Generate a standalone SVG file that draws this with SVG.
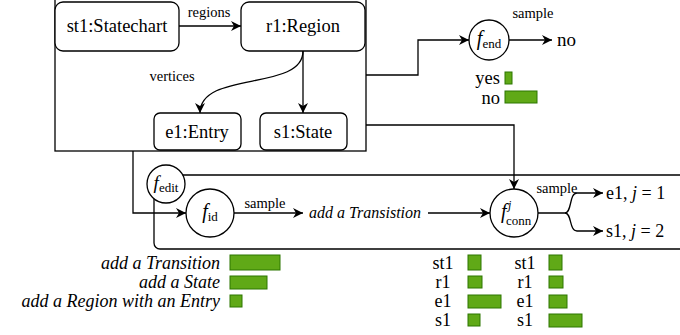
<svg xmlns="http://www.w3.org/2000/svg" width="680" height="335" viewBox="0 0 680 335">
<style>
text{font-family:"Liberation Serif","Noto Serif","DejaVu Serif",serif}
.node{fill:#fff;stroke:#000;stroke-width:1.3}
.lbl{font-size:14.5px}
.nm{font-size:18.5px}
.it{font-style:italic}
.ln{fill:none;stroke:#000;stroke-width:1.3}
.bar{fill:#60a917;stroke:#2d7600;stroke-width:1}
.ch{font-size:18px}
</style>
<defs>
<marker id="ahL" viewBox="0 0 10 10" refX="10" refY="5" markerWidth="10" markerHeight="10" markerUnits="userSpaceOnUse" orient="auto">
<path d="M0,0 L10,5 L0,10 L3,5 z" fill="#000"/>
</marker>
</defs>

<g id="container">
<rect x="55" y="-1" width="311" height="152" fill="#fff" stroke="#000" stroke-width="1.3"/>
</g>
<g id="edit-region">
<rect x="154" y="175" width="560" height="74" rx="6" fill="none" stroke="#000" stroke-width="1.3"/>
</g>

<g id="connectors">
<path class="ln" d="M179,26 L241,26" marker-end="url(#ahL)"/>
<path class="ln" d="M303,51 C303,92 200,70 200,113" marker-end="url(#ahL)"/>
<path class="ln" d="M303,51 L303,113" marker-end="url(#ahL)"/>
<path class="ln" d="M366,75 L418,75 L418,40 L469,40" marker-end="url(#ahL)"/>
<path class="ln" d="M509,40 L552,40" stroke-width="2" marker-end="url(#ahL)"/>
<path class="ln" d="M366,125 L514,125 L514,189" marker-end="url(#ahL)"/>
<path class="ln" d="M133,151 L133,213 L186,213" marker-end="url(#ahL)"/>
<path class="ln" d="M234,213 L303,213" marker-end="url(#ahL)"/>
<path class="ln" d="M428,213 L490,213" marker-end="url(#ahL)"/>
<path class="ln" d="M538,213 L565,213 C572,213 569,193 577,193 L603,193" marker-end="url(#ahL)"/>
<path class="ln" d="M565,213 C572,213 569,231 577,231 L603,231" marker-end="url(#ahL)"/>
</g>

<g id="labels">
<text class="lbl" x="209" y="17" text-anchor="middle">regions</text>
<text class="lbl" x="172" y="81" text-anchor="middle">vertices</text>
<text class="lbl" x="533" y="18" text-anchor="middle">sample</text>
<text class="lbl" x="265" y="208" text-anchor="middle">sample</text>
<text class="lbl" x="557" y="193" text-anchor="middle">sample</text>
<text x="365" y="218" font-size="16" class="it" text-anchor="middle">add a Transistion</text>
</g>

<g id="st1">
<rect class="node" x="55" y="2" width="124" height="49" rx="8"/>
<text class="nm" x="117" y="32" text-anchor="middle">st1:Statechart</text>
</g>
<g id="r1">
<rect class="node" x="241" y="2" width="124" height="49" rx="8"/>
<text class="nm" x="303" y="32" text-anchor="middle">r1:Region</text>
</g>
<g id="e1">
<rect class="node" x="154" y="113" width="87" height="37" rx="6"/>
<text class="nm" x="197" y="138" text-anchor="middle">e1:Entry</text>
</g>
<g id="s1">
<rect class="node" x="260" y="113" width="87" height="37" rx="6"/>
<text class="nm" x="303" y="138" text-anchor="middle">s1:State</text>
</g>

<g id="fend">
<circle class="node" cx="489" cy="40" r="20"/>
<text x="489" y="45" text-anchor="middle"><tspan class="it" font-size="20">f</tspan><tspan font-size="13" dy="3">end</tspan></text>
<text x="557" y="46" font-size="19">no</text>
<text x="500" y="84" font-size="18.5" text-anchor="end">yes</text>
<text x="500" y="104" font-size="18.5" text-anchor="end">no</text>
<rect class="bar" x="505" y="72" width="7" height="12"/>
<rect class="bar" x="505" y="91" width="32" height="12"/>
</g>

<g id="fedit">
<circle class="node" cx="166" cy="184" r="19"/>
<text x="166" y="189" text-anchor="middle"><tspan class="it" font-size="19">f</tspan><tspan font-size="13" dy="3">edit</tspan></text>
</g>
<g id="fid">
<circle class="node" cx="210" cy="213" r="24"/>
<text x="210" y="218" text-anchor="middle"><tspan class="it" font-size="20">f</tspan><tspan font-size="13" dy="3">id</tspan></text>
</g>
<g id="fconn">
<circle class="node" cx="514" cy="213" r="24"/>
<text x="501" y="218" class="it" font-size="20">f</text>
<text x="508" y="209" class="it" font-size="12">j</text>
<text x="506" y="225" font-size="13">conn</text>
</g>
<g id="outputs">
<text x="606" y="199" font-size="18">e1, <tspan class="it">j</tspan> = 1</text>
<text x="606" y="237" font-size="18">s1, <tspan class="it">j</tspan> = 2</text>
</g>

<g id="chart-edits">
<text x="220" y="269" font-size="18" class="it" text-anchor="end">add a Transition</text>
<text x="220" y="288" font-size="18" class="it" text-anchor="end">add a State</text>
<text x="220" y="307" font-size="18" class="it" text-anchor="end">add a Region with an Entry</text>
<rect class="bar" x="230" y="255" width="50" height="15"/>
<rect class="bar" x="230" y="276" width="37" height="13"/>
<rect class="bar" x="230" y="295" width="12" height="12"/>
</g>
<g id="chart-conn1">
<text class="ch" x="443" y="269" text-anchor="middle">st1</text>
<text class="ch" x="443" y="288" text-anchor="middle">r1</text>
<text class="ch" x="443" y="307" text-anchor="middle">e1</text>
<text class="ch" x="443" y="326" text-anchor="middle">s1</text>
<rect class="bar" x="468" y="255" width="13" height="15"/>
<rect class="bar" x="468" y="276" width="14" height="12"/>
<rect class="bar" x="468" y="295" width="33" height="13"/>
<rect class="bar" x="468" y="314" width="12" height="12"/>
</g>
<g id="chart-conn2">
<text class="ch" x="525" y="269" text-anchor="middle">st1</text>
<text class="ch" x="525" y="288" text-anchor="middle">r1</text>
<text class="ch" x="525" y="307" text-anchor="middle">e1</text>
<text class="ch" x="525" y="326" text-anchor="middle">s1</text>
<rect class="bar" x="549" y="255" width="13" height="15"/>
<rect class="bar" x="549" y="276" width="14" height="12"/>
<rect class="bar" x="549" y="295" width="18" height="13"/>
<rect class="bar" x="549" y="314" width="33" height="13"/>
</g>
</svg>
